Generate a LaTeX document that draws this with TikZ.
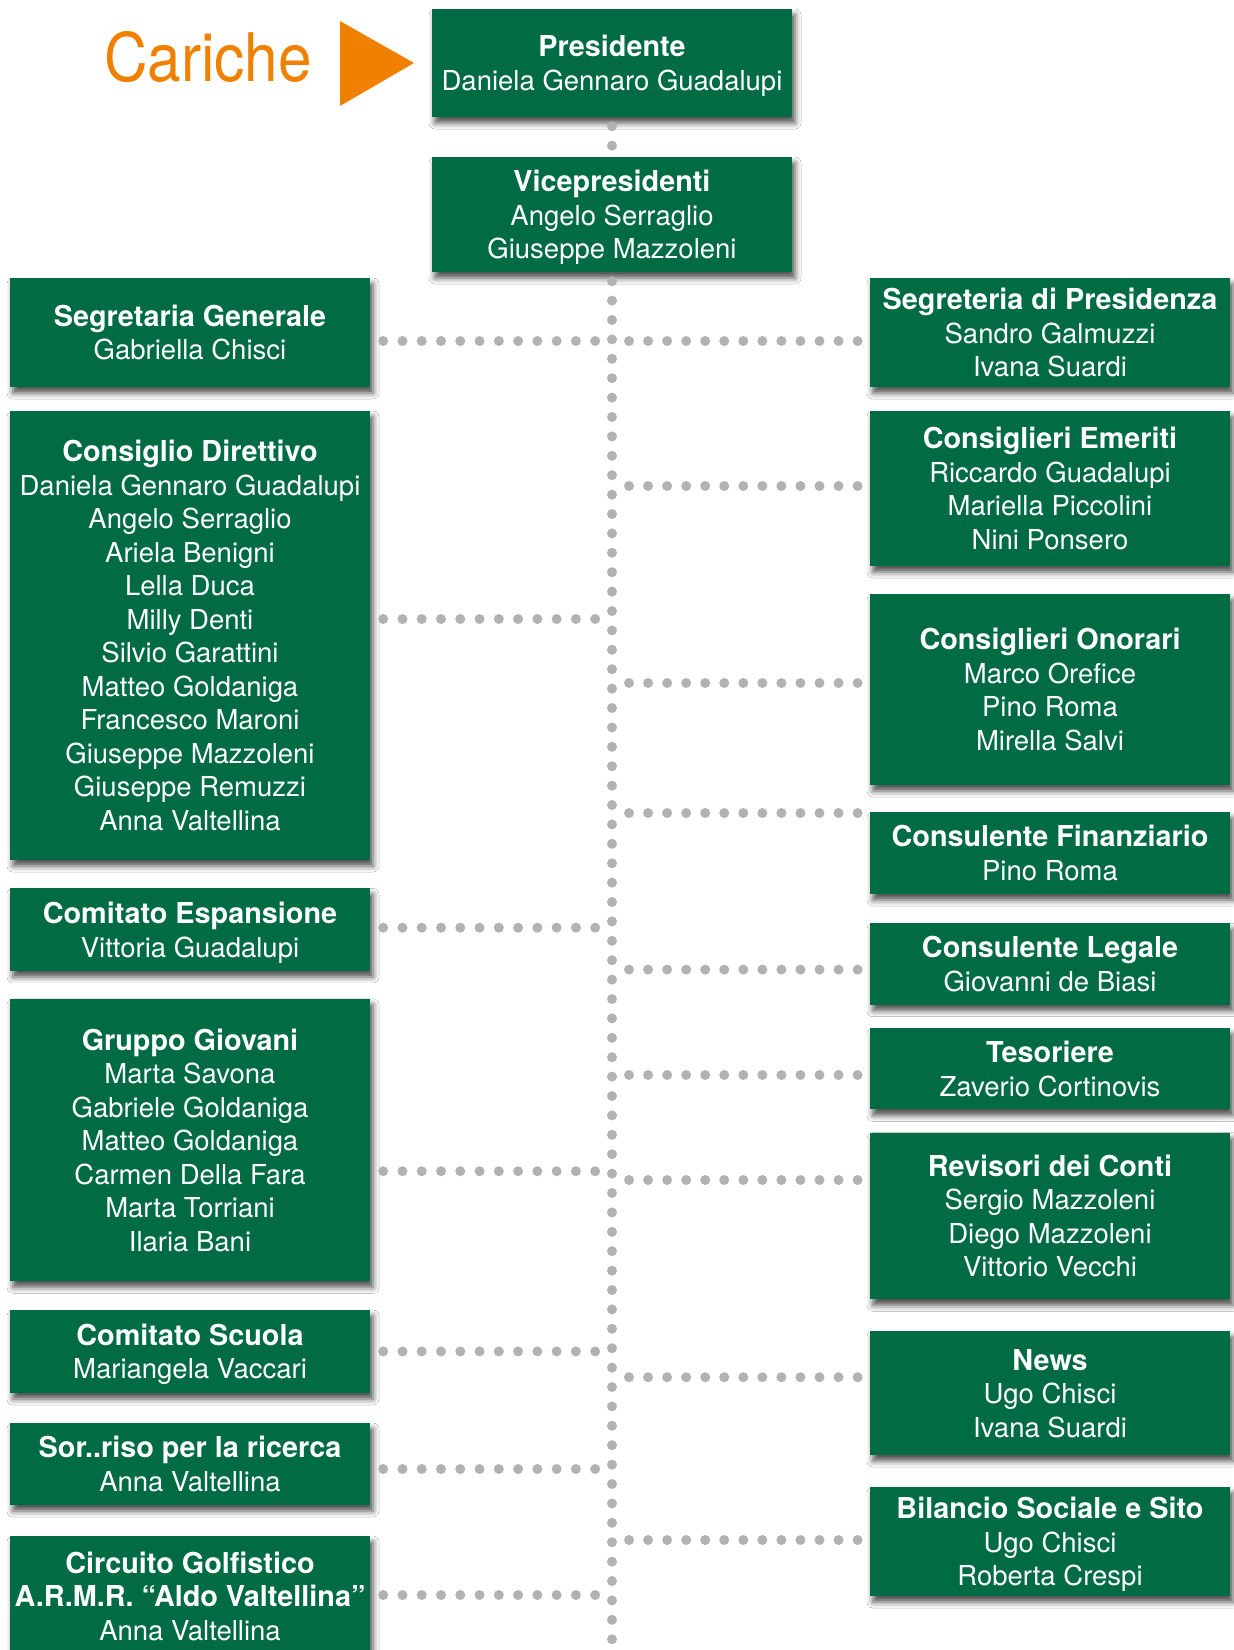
\documentclass[tikz,border=0pt]{standalone}
\usepackage{fontspec}
\setmainfont{TeX Gyre Heros}
\usetikzlibrary{shadows.blur}
\definecolor{boxgreen}{RGB}{1,107,67}
\definecolor{dotgray}{RGB}{178,178,178}
\definecolor{carorange}{RGB}{240,128,0}
\newcommand{\boxhead}[1]{{\fontsize{28.8}{33.5}\selectfont\bfseries #1}}
\tikzset{
  orgbox/.style={fill=boxgreen, text=white, minimum width=360pt, inner sep=0pt,
    align=center, text depth=0pt, font=\fontsize{27.5}{33.5}\selectfont,
    blur shadow={shadow xshift=3pt, shadow yshift=-6pt, shadow blur radius=6pt, shadow opacity=70}},
  vdots/.style={draw=dotgray, line width=10pt, line cap=round, dash pattern=on 0pt off 19.4pt},
  ldots/.style={draw=dotgray, line width=10pt, line cap=round, dash pattern=on 0pt off 19.27pt},
  rdots/.style={draw=dotgray, line width=10pt, line cap=round, dash pattern=on 0pt off 19.05pt}
}
\begin{document}
\begin{tikzpicture}[x=1pt,y=-1pt]
\fill[white] (0,0) rectangle (1234,1650);
\useasboundingbox (0,0) rectangle (1234,1650);

% title
\node[text=carorange, anchor=base, inner sep=0pt, font=\fontsize{67}{67}\selectfont] (title) at (208,81) {\scalebox{0.9}[1]{Cariche}};
\fill[carorange] (340,21) -- (340,106) -- (414,63) -- cycle;

% spine end
\coordinate (spineEnd) at (612,1641.5);

% junctions
\coordinate (jL1) at (597,341);
\coordinate (jL2) at (597,619);
\coordinate (jL3) at (597,927.7);
\coordinate (jL4) at (597,1171.2);
\coordinate (jL5) at (597,1351.4);
\coordinate (jL6) at (597,1469);
\coordinate (jL7) at (597,1595);
\coordinate (jR1) at (629,341);
\coordinate (jR2) at (629,486);
\coordinate (jR3) at (629,683);
\coordinate (jR4) at (629,813);
\coordinate (jR5) at (629,969.6);
\coordinate (jR6) at (629,1075);
\coordinate (jR7) at (629,1180);
\coordinate (jR8) at (629,1377.2);
\coordinate (jR9) at (629,1540);

% boxes: center column
\node[orgbox, minimum height=108pt] (pres) at (612,63) {\boxhead{Presidente}\\Daniela Gennaro Guadalupi};
\node[orgbox, minimum height=115pt] (vice) at (612,214.5) {\boxhead{Vicepresidenti}\\Angelo Serraglio\\Giuseppe Mazzoleni};

% left column
\node[orgbox, minimum height=109pt] (segGen) at (190,332.5) {\boxhead{Segretaria Generale}\\Gabriella Chisci};
\node[orgbox, minimum height=449pt] (consDir) at (190,635.5) {\boxhead{Consiglio Direttivo}\\Daniela Gennaro Guadalupi\\Angelo Serraglio\\Ariela Benigni\\Lella Duca\\Milly Denti\\Silvio Garattini\\Matteo Goldaniga\\Francesco Maroni\\Giuseppe Mazzoleni\\Giuseppe Remuzzi\\Anna Valtellina};
\node[orgbox, minimum height=82.5pt] (comEsp) at (190,929.7) {\boxhead{Comitato Espansione}\\Vittoria Guadalupi};
\node[orgbox, minimum height=282.5pt] (grupGio) at (190,1140) {\boxhead{Gruppo Giovani}\\Marta Savona\\Gabriele Goldaniga\\Matteo Goldaniga\\Carmen Della Fara\\Marta Torriani\\Ilaria Bani};
\node[orgbox, minimum height=83pt] (comScu) at (190,1351.5) {\boxhead{Comitato Scuola}\\Mariangela Vaccari};
\node[orgbox, minimum height=82pt] (sorriso) at (190,1464) {\boxhead{Sor..riso per la ricerca}\\Anna Valtellina};
\node[orgbox, minimum height=120pt] (circuito) at (190,1596) {\boxhead{Circuito Golfistico}\\\boxhead{A.R.M.R. “Aldo Valtellina”}\\Anna Valtellina};

% right column
\node[orgbox, minimum height=109pt] (segPres) at (1050,332.5) {\boxhead{Segreteria di Presidenza}\\Sandro Galmuzzi\\Ivana Suardi};
\node[orgbox, minimum height=155pt] (emeriti) at (1050,488.5) {\boxhead{Consiglieri Emeriti}\\Riccardo Guadalupi\\Mariella Piccolini\\Nini Ponsero};
\node[orgbox, minimum height=191pt] (onorari) at (1050,689.5) {\boxhead{Consiglieri Onorari}\\Marco Orefice\\Pino Roma\\Mirella Salvi};
\node[orgbox, minimum height=82pt] (finanz) at (1050,853) {\boxhead{Consulente Finanziario}\\Pino Roma};
\node[orgbox, minimum height=81.4pt] (legale) at (1050,964) {\boxhead{Consulente Legale}\\Giovanni de Biasi};
\node[orgbox, minimum height=81.4pt] (tesor) at (1050,1068.7) {\boxhead{Tesoriere}\\Zaverio Cortinovis};
\node[orgbox, minimum height=166.6pt] (revisori) at (1050,1216) {\boxhead{Revisori dei Conti}\\Sergio Mazzoleni\\Diego Mazzoleni\\Vittorio Vecchi};
\node[orgbox, minimum height=124pt] (news) at (1050,1393) {\boxhead{News}\\Ugo Chisci\\Ivana Suardi};
\node[orgbox, minimum height=109pt] (bilancio) at (1050,1541.5) {\boxhead{Bilancio Sociale e Sito}\\Ugo Chisci\\Roberta Crespi};

% spine
\draw[vdots] ([yshift=-9pt]pres.south) -- ([yshift=9.5pt]vice.north);
\draw[vdots] ([yshift=-9pt]vice.south) -- (spineEnd);

% left connectors
\draw[ldots, shorten <=13pt] (segGen.east |- jL1) -- (jL1);
\draw[ldots, shorten <=13pt] (consDir.east |- jL2) -- (jL2);
\draw[ldots, shorten <=13pt] (comEsp.east |- jL3) -- (jL3);
\draw[ldots, shorten <=13pt] (grupGio.east |- jL4) -- (jL4);
\draw[ldots, shorten <=13pt] (comScu.east |- jL5) -- (jL5);
\draw[ldots, shorten <=13pt] (sorriso.east |- jL6) -- (jL6);
\draw[ldots, shorten <=13pt] (circuito.east |- jL7) -- (jL7);

% right connectors
\draw[rdots, shorten >=10pt] (jR1) -- (segPres.west |- jR1);
\draw[rdots, shorten >=10pt] (jR2) -- (emeriti.west |- jR2);
\draw[rdots, shorten >=10pt] (jR3) -- (onorari.west |- jR3);
\draw[rdots, shorten >=10pt] (jR4) -- (finanz.west |- jR4);
\draw[rdots, shorten >=10pt] (jR5) -- (legale.west |- jR5);
\draw[rdots, shorten >=10pt] (jR6) -- (tesor.west |- jR6);
\draw[rdots, shorten >=10pt] (jR7) -- (revisori.west |- jR7);
\draw[rdots, shorten >=10pt] (jR8) -- (news.west |- jR8);
\draw[rdots, shorten >=10pt] (jR9) -- (bilancio.west |- jR9);
\end{tikzpicture}
\end{document}
